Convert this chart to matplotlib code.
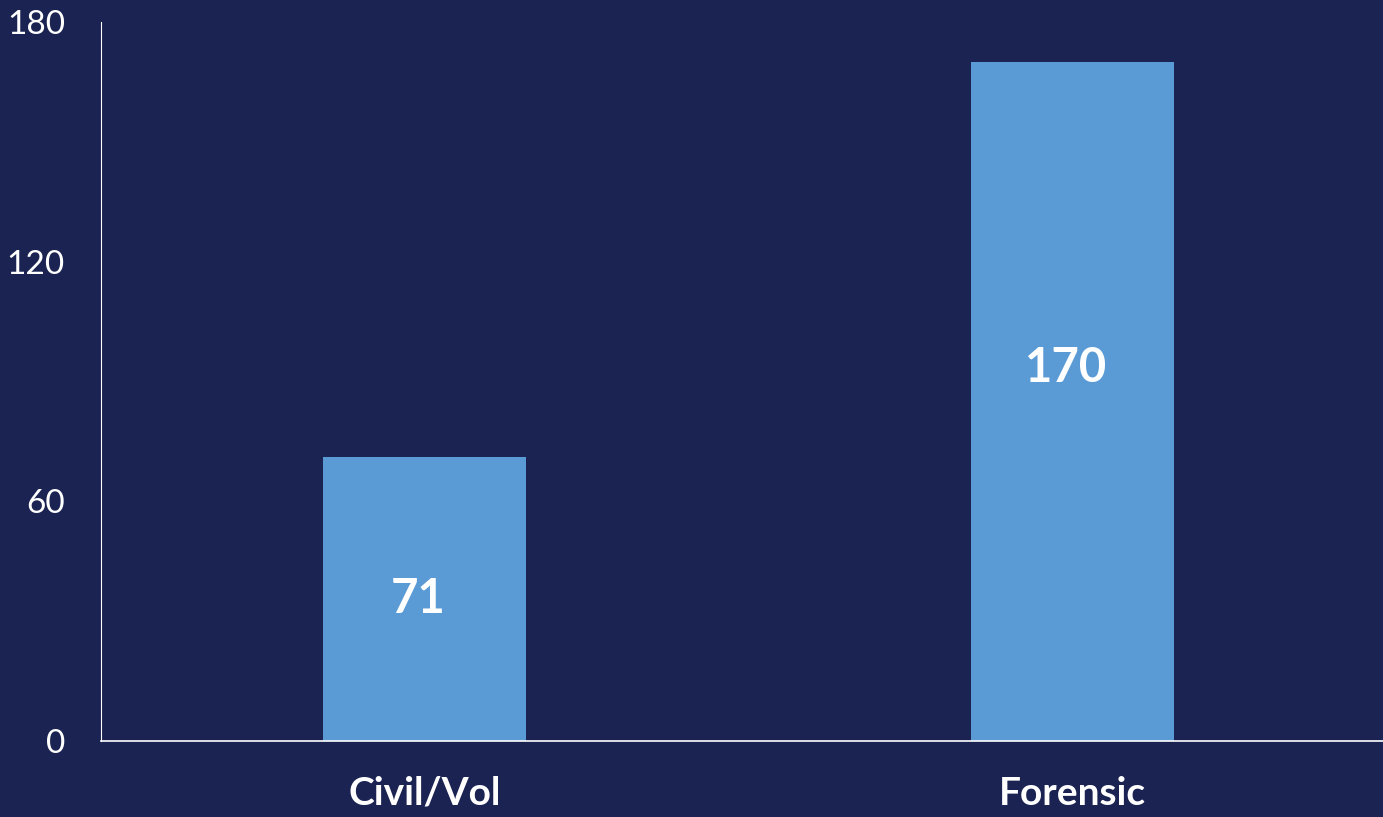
import matplotlib.pyplot as plt

categories = ['Civil/Vol', 'Forensic']
values = [71, 170]
label_y = [35.5, 93.5]
yticks = [0, 60, 120, 180]

bg = '#1a2351'
bar_color = '#5b9bd5'

plt.rcParams['font.family'] = ['Lato', 'DejaVu Sans']

fig = plt.figure(figsize=(13.83, 8.17), dpi=100, facecolor=bg)
ax = fig.add_axes([101 / 1383, 1 - 741 / 817, 1282 / 1383, 719 / 817])
ax.set_facecolor(bg)

x = range(len(categories))
ax.bar(x, values, width=0.314, color=bar_color)
for i, v in enumerate(values):
    ax.text(i - 0.01, label_y[i], str(v), ha='center', va='center', color='white',
            fontsize=34, fontweight='bold')

ax.set_xlim(-0.5, 1.48)
ax.set_ylim(0, 180)
ax.set_yticks(yticks)
ax.set_xticks(list(x))
ax.set_xticklabels(categories, fontsize=28, fontweight='bold', color='white')
ax.tick_params(axis='x', length=0, pad=25)
ax.tick_params(axis='y', length=0, pad=26, labelsize=24, labelcolor='white')

for s in ['top', 'right']:
    ax.spines[s].set_visible(False)
ax.spines['left'].set_color('white')
ax.spines['bottom'].set_color('white')
ax.spines['left'].set_linewidth(0.8)
ax.spines['bottom'].set_linewidth(1.2)

fig.savefig('out.png', dpi=100, facecolor=bg)
